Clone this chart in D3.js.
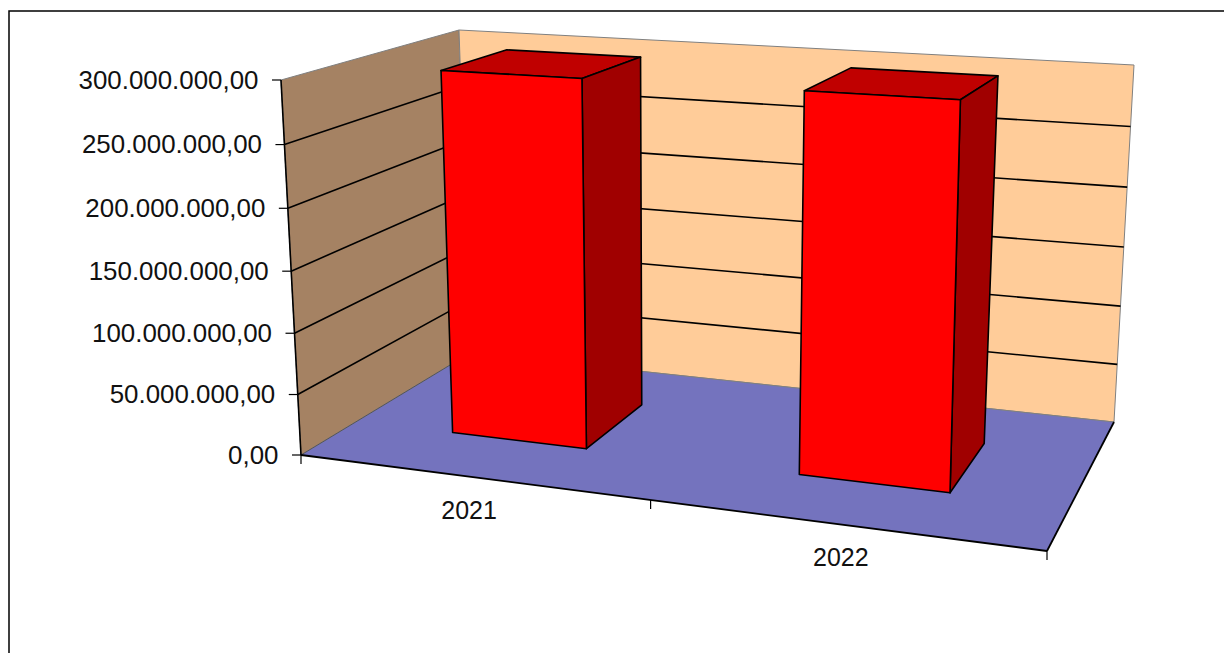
<!DOCTYPE HTML>
<html>

<head>
    <meta charset="UTF-8">
    <title>D3</title>
    <script src="https://d3js.org/d3.v7.min.js"></script>
    <style type="text/css">
        html, body {
            margin: 0;
            padding: 0;
            background: #ffffff;
            overflow: hidden;
        }

        text {
            font-family: "Liberation Sans", Arial, sans-serif;
            fill: #111111;
        }
    </style>
</head>

<body>
    <svg id="svg" width="1224" height="653"></svg>
</body>
</html>
<script type="text/javascript">

    var categories = ["2021", "2022"];
    var values = [299000000, 299500000];
    var valueTicks = [0, 50000000, 100000000, 150000000, 200000000, 250000000, 300000000];

    // corners of the floor and of the ceiling: front left, front right, back right, back left
    var floor = [[301, 455], [1047, 551], [1114, 422], [470, 353]];
    var ceiling = [[281, 80], [1058, 127], [1134, 65], [459, 30]];

    var svg = d3.select("#svg");

    var ustep = d3.scaleBand().domain(categories).range([-0.002, 0.998]).paddingInner(0.6).paddingOuter(0.3);
    var vscale = d3.scaleLinear().domain([0, 300000000]).range([0, 1]);
    var barDepth = [0.3, 0.7];

    // unit square -> quad
    function homography(q) {
        var dx1 = q[1][0] - q[2][0], dx2 = q[3][0] - q[2][0], sx = q[0][0] - q[1][0] + q[2][0] - q[3][0];
        var dy1 = q[1][1] - q[2][1], dy2 = q[3][1] - q[2][1], sy = q[0][1] - q[1][1] + q[2][1] - q[3][1];
        var den = dx1 * dy2 - dx2 * dy1;
        var g = (sx * dy2 - dx2 * sy) / den;
        var h = (dx1 * sy - sx * dy1) / den;
        return function (u, w) {
            var d = 1 + g * u + h * w;
            return [
                (q[0][0] + (q[1][0] * (1 + g) - q[0][0]) * u + (q[3][0] * (1 + h) - q[0][0]) * w) / d,
                (q[0][1] + (q[1][1] * (1 + g) - q[0][1]) * u + (q[3][1] * (1 + h) - q[0][1]) * w) / d
            ];
        };
    }

    var floorAt = homography(floor);
    var ceilingAt = homography(ceiling);

    function project(u, value, w) {
        var a = floorAt(u, w), b = ceilingAt(u, w), f = vscale(value);
        // heights get a little longer towards the top
        var t = f / (1 + 0.04 * (1 - f));
        return [a[0] + (b[0] - a[0]) * t, a[1] + (b[1] - a[1]) * t];
    }

    var line = d3.line();
    var top_v = vscale.domain()[1];

    function face(pts, fill, stroke, width) {
        svg.append("path")
            .attr("d", line(pts) + "Z")
            .attr("fill", fill)
            .attr("stroke", stroke)
            .attr("stroke-width", width)
            .attr("stroke-linejoin", "round");
    }

    function seg(a, b, stroke, width) {
        svg.append("line")
            .attr("x1", a[0]).attr("y1", a[1])
            .attr("x2", b[0]).attr("y2", b[1])
            .attr("stroke", stroke)
            .attr("stroke-width", width);
    }

    // outer border, right and bottom sides run off the picture
    svg.append("rect")
        .attr("x", 9).attr("y", 11)
        .attr("width", 1300).attr("height", 700)
        .attr("fill", "#ffffff")
        .attr("stroke", "#000000")
        .attr("stroke-width", 1.5);

    // walls and floor
    face([project(0, 0, 0), project(0, top_v, 0), project(0, top_v, 1), project(0, 0, 1)], "#A58263", "#808080", 1);
    face([project(0, 0, 1), project(0, top_v, 1), project(1, top_v, 1), project(1, 0, 1)], "#FFCC99", "#808080", 1);
    face([project(0, 0, 0), project(1, 0, 0), project(1, 0, 1), project(0, 0, 1)], "#7473BE", "none", 0);
    seg(project(0, 0, 0), project(0, 0, 1), "#555555", 1);
    seg(project(0, 0, 1), project(1, 0, 1), "#808080", 1);

    // grid lines
    valueTicks.slice(1, -1).forEach(function (d) {
        seg(project(0, d, 0), project(0, d, 1), "#000000", 1.6);
        seg(project(0, d, 1), project(1, d, 1), "#000000", 1.6);
    });

    // axis lines
    seg(project(0, 0, 0), project(0, top_v, 0), "#000000", 1.6);
    seg(project(0, 0, 0), project(1, 0, 0), "#000000", 1.8);
    seg(project(1, 0, 0), project(1, 0, 1), "#000000", 1.8);

    // value ticks and labels
    var fmt = d3.formatLocale({ decimal: ",", thousands: ".", grouping: [3], currency: ["", ""] }).format(",.2f");
    valueTicks.forEach(function (d) {
        var p = project(0, d, 0);
        seg([p[0] - 9, p[1]], p, "#000000", 1.2);
        svg.append("text")
            .attr("x", p[0] - 22.5)
            .attr("y", p[1] + 8.5)
            .attr("text-anchor", "end")
            .attr("font-size", 25.9)
            .text(fmt(d));
    });

    // category ticks and labels
    [0, 0.5, 1].forEach(function (u) {
        var p = project(u, 0, 0);
        seg(p, [p[0], p[1] + 9], "#000000", 1.2);
    });
    categories.forEach(function (c) {
        var p = project(ustep(c) + ustep.bandwidth() / 2, 0, 0);
        svg.append("text")
            .attr("x", p[0])
            .attr("y", p[1] + 42)
            .attr("text-anchor", "middle")
            .attr("font-size", 25)
            .text(c);
    });

    // bars
    categories.forEach(function (c, i) {
        var u0 = ustep(c), u1 = u0 + ustep.bandwidth();
        var w0 = barDepth[0], w1 = barDepth[1], v = values[i];
        face([project(u0, v, w0), project(u1, v, w0), project(u1, v, w1), project(u0, v, w1)], "#C00000", "#000000", 1.6);
        face([project(u1, 0, w0), project(u1, v, w0), project(u1, v, w1), project(u1, 0, w1)], "#A00000", "#000000", 1.6);
        face([project(u0, 0, w0), project(u1, 0, w0), project(u1, v, w0), project(u0, v, w0)], "#FF0000", "#000000", 1.6);
    });

</script>
